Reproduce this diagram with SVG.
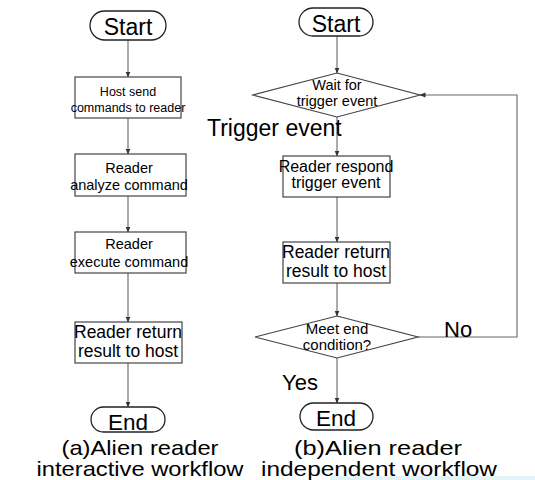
<svg xmlns="http://www.w3.org/2000/svg" width="535" height="480" viewBox="0 0 535 480">
<defs>
<marker id="ah" markerWidth="6" markerHeight="6" refX="5.5" refY="3" orient="auto" markerUnits="userSpaceOnUse">
<path d="M0,0.5 L6,3 L0,5.5 Z" fill="#333"/>
</marker>
<style>
.term{fill:#fff;stroke:#222;stroke-width:1.3}
.box{fill:#fff;stroke:#444;stroke-width:1.2}
.conn{fill:none;stroke:#666;stroke-width:1.1}
.arr{marker-end:url(#ah)}
text{font-family:"Liberation Sans",Arial,sans-serif;fill:#000;text-anchor:middle}
.lbl{text-anchor:start}
</style>
</defs>
<rect width="535" height="480" fill="#fff"/>
<rect x="330" y="476" width="205" height="4" fill="#e2f4f8"/>

<g id="connectors">
<line class="conn arr" x1="128" y1="40" x2="128" y2="77"/>
<line class="conn arr" x1="128" y1="118" x2="128" y2="154"/>
<line class="conn arr" x1="128" y1="196" x2="128" y2="232"/>
<line class="conn arr" x1="128" y1="273" x2="128" y2="322"/>
<line class="conn arr" x1="128" y1="363" x2="128" y2="407"/>
<line class="conn arr" x1="337" y1="36" x2="337" y2="73"/>
<line class="conn arr" x1="337" y1="117" x2="337" y2="156"/>
<line class="conn arr" x1="337" y1="197" x2="337" y2="242"/>
<line class="conn arr" x1="337" y1="283" x2="337" y2="316"/>
<line class="conn arr" x1="337" y1="358" x2="337" y2="403"/>
<polyline class="conn arr" points="418,337 517,337 517,95 420,95"/>
<text class="lbl" x="207" y="136" font-size="23">Trigger event</text>
<text class="lbl" x="444" y="337" font-size="22">No</text>
<text class="lbl" x="282" y="390" font-size="22">Yes</text>
</g>

<g id="startA">
<rect class="term" x="90" y="11" width="76" height="29" rx="14.5"/>
<text x="128" y="35" font-size="23">Start</text>
</g>
<g id="hostSend">
<rect class="box" x="75" y="77" width="106" height="41"/>
<text x="128" y="96" font-size="12.5">Host send</text>
<text x="128" y="112" font-size="12.5">commands to reader</text>
</g>
<g id="analyze">
<rect class="box" x="75" y="154" width="111" height="42"/>
<text x="129" y="173" font-size="14.5">Reader</text>
<text x="129" y="190" font-size="14.5">analyze command</text>
</g>
<g id="execute">
<rect class="box" x="75" y="232" width="111" height="41"/>
<text x="129" y="249" font-size="14.5">Reader</text>
<text x="129" y="267" font-size="14.5">execute command</text>
</g>
<g id="returnA">
<rect class="box" x="75" y="322" width="107" height="41"/>
<text x="128" y="338" font-size="17.5">Reader return</text>
<text x="128" y="357" font-size="17.5">result to host</text>
</g>
<g id="endA">
<rect class="term" x="91" y="407" width="74" height="25" rx="12.5"/>
<text x="128" y="430" font-size="22.5">End</text>
</g>
<g id="captionA">
<text x="140" y="455" font-size="21" textLength="157" lengthAdjust="spacingAndGlyphs">(a)Alien reader</text>
<text x="140" y="476" font-size="21" textLength="207" lengthAdjust="spacingAndGlyphs">interactive workflow</text>
</g>

<g id="startB">
<rect class="term" x="299" y="8" width="74" height="28" rx="14"/>
<text x="336" y="32" font-size="23">Start</text>
</g>
<g id="waitTrigger">
<polygon class="box" points="337,73 420,95 337,117 253,95"/>
<text x="337" y="90" font-size="14.5">Wait for</text>
<text x="337" y="106" font-size="14.5">trigger event</text>
</g>
<g id="respond">
<rect class="box" x="283" y="156" width="107" height="41"/>
<text x="336" y="172" font-size="16">Reader respond</text>
<text x="336" y="188" font-size="16">trigger event</text>
</g>
<g id="returnB">
<rect class="box" x="283" y="242" width="107" height="41"/>
<text x="336" y="258" font-size="17.5">Reader return</text>
<text x="336" y="277" font-size="17.5">result to host</text>
</g>
<g id="endCond">
<polygon class="box" points="337,316 418,337 337,358 255,337"/>
<text x="337" y="334" font-size="15">Meet end</text>
<text x="337" y="350" font-size="15">condition?</text>
</g>
<g id="endB">
<rect class="term" x="300" y="403" width="73" height="27" rx="13.5"/>
<text x="336" y="426" font-size="22.5">End</text>
</g>
<g id="captionB">
<text x="378" y="455" font-size="21" textLength="168" lengthAdjust="spacingAndGlyphs">(b)Alien reader</text>
<text x="379" y="476" font-size="21" textLength="236" lengthAdjust="spacingAndGlyphs">independent workflow</text>
</g>
</svg>
